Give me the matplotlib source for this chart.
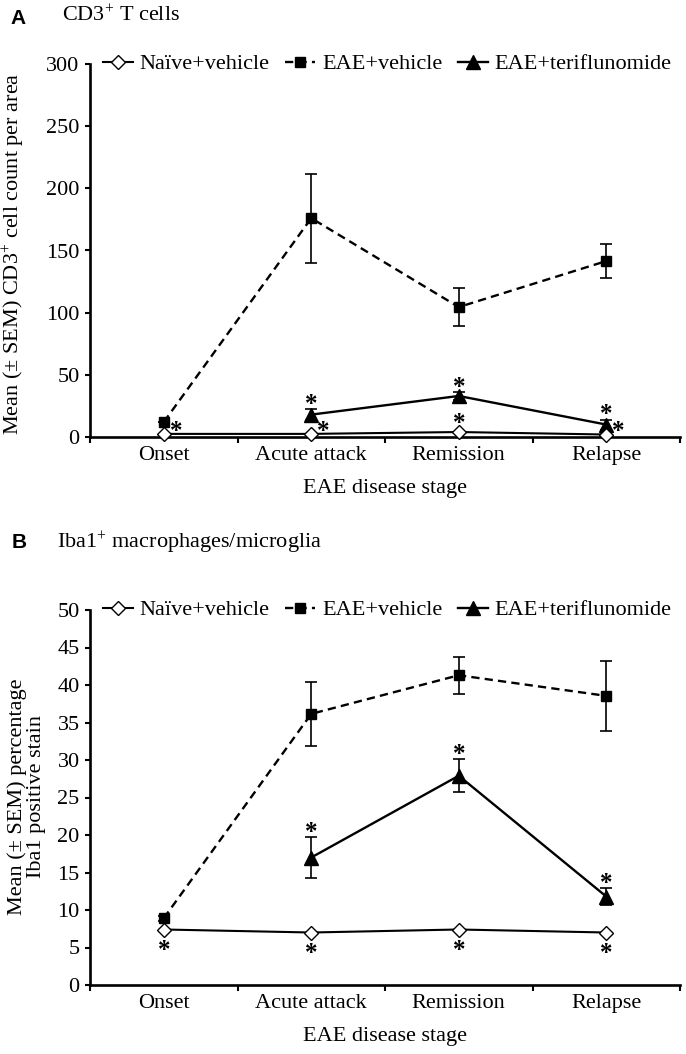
import numpy as np
import matplotlib
matplotlib.use('Agg')
import matplotlib.pyplot as plt

plt.rcParams['font.family'] = ['Liberation Serif', 'DejaVu Serif']
plt.rcParams['mathtext.fontset'] = 'custom'
plt.rcParams['mathtext.rm'] = 'Liberation Serif'
plt.rcParams['mathtext.it'] = 'Liberation Serif:italic'
plt.rcParams['mathtext.bf'] = 'Liberation Serif:bold'

# Data
stages = ['Onset', 'Acute attack', 'Remission', 'Relapse']
series_names = ['Naïve+vehicle', 'EAE+vehicle', 'EAE+teriflunomide']

# Panel A: CD3+ T cells
a_naive = [2.5, 2.5, 4.0, 2.0]
a_eae = [12, 176, 104.5, 141.5]
a_eae_err = [0, 35.7, 15.6, 14]
a_teri = [np.nan, 18, 33, 10]
a_teri_err = [np.nan, 4.7, 3, 4]
a_star_teri = [False, True, True, True]
a_star_naive = ['right', 'right', 'above', 'right']
a_yticks = [0, 50, 100, 150, 200, 250, 300]

# Panel B: Iba1+ macrophages/microglia
b_naive = [7.4, 7.0, 7.4, 7.0]
b_eae = [8.9, 36.15, 41.3, 38.55]
b_eae_err = [0.3, 4.25, 2.5, 4.65]
b_teri = [np.nan, 17.0, 27.9, 11.8]
b_teri_err = [np.nan, 2.7, 2.2, 1.1]
b_star_teri = [False, True, True, True]
b_star_naive = ['below', 'below', 'below', 'below']
b_yticks = [0, 5, 10, 15, 20, 25, 30, 35, 40, 45, 50]

FS = 16
SFS = 18
x = np.arange(len(stages)) + 0.5


def star(ax, xv, yv, dx_px, dy_px):
    # asterisk glyph centre sits ~0.47 em above baseline
    ax.annotate('*', xy=(xv, yv), xytext=(dx_px * 0.72, dy_px * 0.72 - 0.47 * SFS),
                textcoords='offset points', ha='center', va='baseline',
                fontsize=SFS, fontweight='bold', annotation_clip=False, zorder=6)


def panel(ax, naive, eae, eae_err, teri, teri_err, star_teri, star_naive, yticks):
    ax.errorbar(x, eae, yerr=eae_err, fmt='none', ecolor='black', elinewidth=1.2,
                capsize=4, capthick=1.2, zorder=2)
    ax.errorbar(x, teri, yerr=teri_err, fmt='none', ecolor='black', elinewidth=1.2,
                capsize=4, capthick=1.2, zorder=2)
    l2, = ax.plot(x, eae, color='black', ls=(0, (3.5, 2.2)), lw=1.7, marker='s',
                  ms=7.5, mfc='black', mec='black', zorder=3, clip_on=False)
    l3, = ax.plot(x, teri, color='black', ls='-', lw=1.7, marker='^',
                  ms=9.5, mfc='black', mec='black', zorder=3, clip_on=False)
    l1, = ax.plot(x, naive, color='black', ls='-', lw=1.5, marker='D',
                  ms=7.5, mfc='white', mec='black', mew=1.0, zorder=4, clip_on=False)

    for i in range(len(stages)):
        if star_teri[i]:
            star(ax, x[i], teri[i] + teri_err[i], 0, 10)
        mode = star_naive[i]
        if mode == 'right':
            star(ax, x[i], naive[i], 12, 8)
        elif mode == 'above':
            star(ax, x[i], naive[i], 0, 14)
        elif mode == 'below':
            star(ax, x[i], naive[i], 0, -16)

    ax.set_xlim(0, 4)
    ax.set_ylim(yticks[0], yticks[-1])
    ax.set_yticks(yticks)
    ax.set_xticks([0, 1, 2, 3, 4])
    ax.set_xticklabels([])
    ax.set_xticks(x, minor=True)
    ax.set_xticklabels(stages, minor=True, fontsize=FS)
    ax.tick_params(axis='x', which='major', direction='out', length=4.5, width=1.5)
    ax.tick_params(axis='x', which='minor', length=0, pad=6.5)
    ax.tick_params(axis='y', direction='out', length=3.5, width=1.5, labelsize=FS, pad=4)
    for s in ['top', 'right']:
        ax.spines[s].set_visible(False)
    for s in ['left', 'bottom']:
        ax.spines[s].set_linewidth(1.9)

    leg = ax.legend([l1, l2, l3], series_names, loc='center left',
                    bbox_to_anchor=(13 / 590, 1.0), ncol=3, frameon=False,
                    fontsize=FS, handlelength=1.35, handletextpad=0.3,
                    columnspacing=0.7, borderpad=0, borderaxespad=0)
    leg.set_zorder(10)


fig = plt.figure(figsize=(6.86, 10.54), dpi=100)
ax_a = fig.add_axes([90 / 686, 1 - 437 / 1054, 590 / 686, 373 / 1054])
ax_b = fig.add_axes([90 / 686, 1 - 985 / 1054, 590 / 686, 375 / 1054])

panel(ax_a, a_naive, a_eae, a_eae_err, a_teri, a_teri_err, a_star_teri, a_star_naive, a_yticks)
panel(ax_b, b_naive, b_eae, b_eae_err, b_teri, b_teri_err, b_star_teri, b_star_naive, b_yticks)

# panel letters and titles
fig.text(18 / 686, 1 - 18 / 1054, 'A', family='Liberation Sans', fontweight='bold',
         fontsize=15, ha='center', va='center')
fig.text(62 / 686, 1 - 16 / 1054, 'CD3$^{+}$ T cells', fontsize=FS, ha='left', va='center')
fig.text(19 / 686, 1 - 543 / 1054, 'B', family='Liberation Sans', fontweight='bold',
         fontsize=15, ha='center', va='center')
fig.text(57 / 686, 1 - 543 / 1054, 'Iba1$^{+}$ macrophages/microglia', fontsize=FS,
         ha='left', va='center')

# axis labels
fig.text(14 / 686, 1 - 254 / 1054, 'Mean (± SEM) CD3$^{+}$ cell count per area',
         rotation=90, fontsize=FS, ha='center', va='center')
fig.text(27 / 686, 1 - 797 / 1054, 'Mean (± SEM) percentage\nIba1 positive stain',
         rotation=90, fontsize=FS, ha='center', va='center', linespacing=1.0,
         multialignment='center')
fig.text(385 / 686, 1 - 489 / 1054, 'EAE disease stage', fontsize=FS, ha='center', va='center')
fig.text(385 / 686, 1 - 1036 / 1054, 'EAE disease stage', fontsize=FS, ha='center', va='center')

fig.savefig('out.png', dpi=100)
